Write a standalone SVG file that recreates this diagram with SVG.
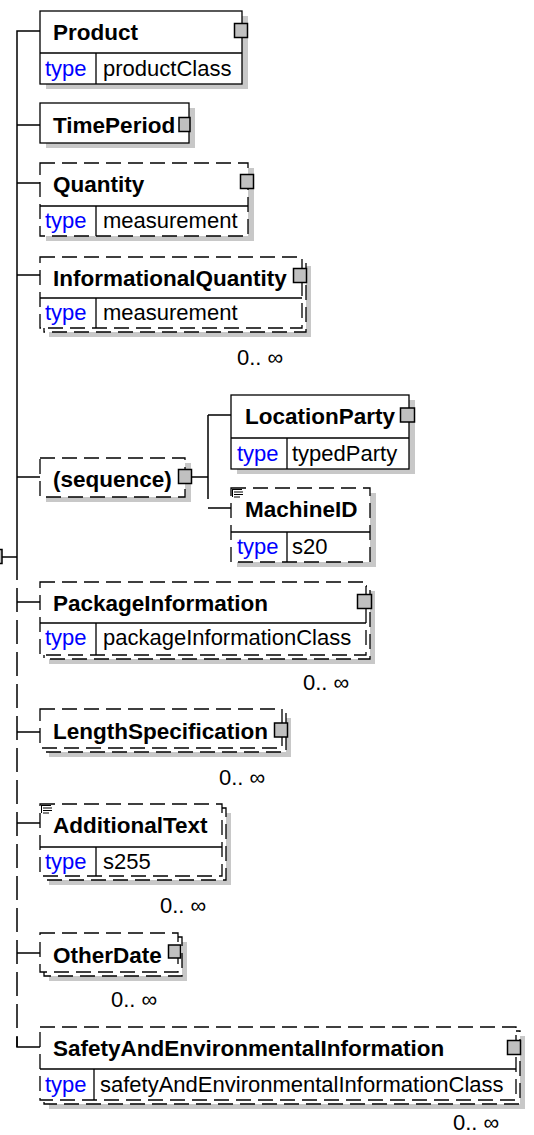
<svg xmlns="http://www.w3.org/2000/svg" width="534" height="1135" viewBox="0 0 534 1135">
<style>
.sh{fill:#c8c8c8;stroke:none}
.bx{fill:#fff;stroke:#000;stroke-width:1.3}
.dbx{fill:#fff;stroke:#000;stroke-width:1.3;stroke-dasharray:15 7}
.ln{fill:none;stroke:#000;stroke-width:1.3}
.cn{fill:none;stroke:#000;stroke-width:1.5}
.dcn{fill:none;stroke:#000;stroke-width:1.5;stroke-dasharray:24 8;stroke-dashoffset:24}
.sq{fill:#c0c0c0;stroke:#000;stroke-width:1.5}
.nm{font-family:"Liberation Sans",Arial,sans-serif;font-weight:bold;font-size:22.5px;fill:#000}
.ty{font-family:"Liberation Sans",Arial,sans-serif;font-size:22px;fill:#0000ff}
.tv{font-family:"Liberation Sans",Arial,sans-serif;font-size:22px;fill:#000}
.oc{font-family:"Liberation Sans",Arial,sans-serif;font-size:22px;fill:#000}
.doc{fill:none;stroke:#000;stroke-width:1}
</style>
<rect width="534" height="1135" fill="#fff"/>
<g id="connectors">
<path class="cn" d="M40,31 H17 V580"/>
<path class="dcn" d="M17,580 V1047"/>
<path class="cn" d="M17,1037 V1047 H40"/>
<path class="cn" d="M17,125 H40 M17,183 H40 M17,275 H40 M17,477 H40 M17,602 H40 M17,732 H40 M17,823 H40 M17,953 H40"/>
<path class="cn" d="M0,557 H17"/>
<rect class="sq" x="-11" y="549.5" width="13" height="14"/>
<path class="cn" d="M192,477 H208 M208,415 V499 M208,415 H231 M208,508 H231"/>
</g>
<g id="Product">
<rect class="sh" x="46" y="16" width="202" height="73"/>
<rect class="bx" x="40" y="11" width="202" height="73"/>
<path class="ln" d="M40,53 H242 M96,53 V84"/>
<text class="nm" x="53" y="40">Product</text>
<text class="ty" x="45" y="76">type</text>
<text class="tv" x="103" y="76">productClass</text>
<rect class="sq" x="234.5" y="23.5" width="13" height="14"/>
</g>
<g id="TimePeriod">
<rect class="sh" x="46" y="108" width="149" height="40"/>
<rect class="bx" x="40" y="103" width="149" height="40"/>
<text class="nm" x="53" y="133">TimePeriod</text>
<rect class="sq" x="179" y="117.5" width="11" height="14"/>
</g>
<g id="Quantity">
<rect class="sh" x="46" y="168" width="208" height="73"/>
<rect class="dbx" x="40" y="163" width="208" height="73"/>
<path class="ln" d="M40,206 H248 M96,206 V236"/>
<text class="nm" x="53" y="192">Quantity</text>
<text class="ty" x="45" y="228">type</text>
<text class="tv" x="103" y="228">measurement</text>
<rect class="sq" x="240.5" y="174.5" width="13" height="14"/>
</g>
<g id="InformationalQuantity">
<rect class="sh" x="49" y="266" width="262" height="71"/>
<rect class="dbx" x="44" y="261" width="262" height="71"/>
<rect class="dbx" x="40" y="257" width="262" height="71"/>
<path class="ln" d="M40,298 H302 M96,298 V328"/>
<text class="nm" x="53" y="286">InformationalQuantity</text>
<text class="ty" x="45" y="320">type</text>
<text class="tv" x="103" y="320">measurement</text>
<rect class="sq" x="293.5" y="268.5" width="13" height="14"/>
<text class="oc" x="237" y="365">0.. ∞</text>
</g>
<g id="sequence">
<rect class="sh" x="46" y="463" width="145" height="39"/>
<rect class="dbx" x="40" y="458" width="145" height="39"/>
<text class="nm" x="53" y="487">(sequence)</text>
<rect class="sq" x="178.5" y="469.5" width="13" height="14"/>
</g>
<g id="LocationParty">
<rect class="sh" x="237" y="400" width="178" height="74"/>
<rect class="bx" x="231" y="395" width="178" height="74"/>
<path class="ln" d="M231,438 H409 M287,438 V469"/>
<text class="nm" x="245" y="424">LocationParty</text>
<text class="ty" x="237" y="461">type</text>
<text class="tv" x="292" y="461">typedParty</text>
<rect class="sq" x="400.5" y="408" width="14" height="14"/>
</g>
<g id="MachineID">
<rect class="sh" x="237" y="493" width="139" height="74"/>
<rect class="dbx" x="231" y="488" width="139" height="74"/>
<path class="ln" d="M231,532 H370 M287,532 V562"/>
<path class="doc" d="M232,489.5 H242 M234,492 H243 M234,494.5 H243 M234,497 H240 M232.5,489 V497"/>
<text class="nm" x="245" y="517">MachineID</text>
<text class="ty" x="237" y="554">type</text>
<text class="tv" x="292" y="554">s20</text>
</g>
<g id="PackageInformation">
<rect class="sh" x="49" y="591" width="326" height="73"/>
<rect class="dbx" x="44" y="586" width="326" height="73"/>
<rect class="dbx" x="40" y="582" width="326" height="73"/>
<path class="ln" d="M40,623 H366 M96,623 V655"/>
<text class="nm" x="53" y="611">PackageInformation</text>
<text class="ty" x="45" y="645">type</text>
<text class="tv" x="103" y="645">packageInformationClass</text>
<rect class="sq" x="357.5" y="594.5" width="14" height="14"/>
<text class="oc" x="303" y="690">0.. ∞</text>
</g>
<g id="LengthSpecification">
<rect class="sh" x="49" y="718" width="242" height="39"/>
<rect class="dbx" x="44" y="713" width="242" height="39"/>
<rect class="dbx" x="40" y="709" width="242" height="39"/>
<text class="nm" x="53" y="739">LengthSpecification</text>
<rect class="sq" x="274.5" y="723" width="13" height="14"/>
<text class="oc" x="219" y="785">0.. ∞</text>
</g>
<g id="AdditionalText">
<rect class="sh" x="49" y="813" width="182" height="72"/>
<rect class="dbx" x="44" y="808" width="182" height="72"/>
<rect class="dbx" x="40" y="804" width="182" height="72"/>
<path class="ln" d="M40,847 H222 M96,847 V876"/>
<path class="doc" d="M41,805.5 H51 M43,808 H52 M43,810.5 H52 M43,813 H49 M41.5,805 V813"/>
<text class="nm" x="53" y="833">AdditionalText</text>
<text class="ty" x="45" y="869">type</text>
<text class="tv" x="103" y="869">s255</text>
<text class="oc" x="160" y="913">0.. ∞</text>
</g>
<g id="OtherDate">
<rect class="sh" x="49" y="942" width="138" height="39"/>
<rect class="dbx" x="44" y="937" width="138" height="39"/>
<rect class="dbx" x="40" y="933" width="138" height="39"/>
<text class="nm" x="53" y="963">OtherDate</text>
<rect class="sq" x="168.5" y="945" width="12" height="13"/>
<text class="oc" x="111" y="1007">0.. ∞</text>
</g>
<g id="SafetyAndEnvironmentalInformation">
<rect class="sh" x="49" y="1036" width="476" height="73"/>
<rect class="dbx" x="44" y="1031" width="476" height="73"/>
<rect class="dbx" x="40" y="1027" width="476" height="73"/>
<path class="ln" d="M40,1069 H516 M94,1069 V1100"/>
<text class="nm" x="53" y="1056">SafetyAndEnvironmentalInformation</text>
<text class="ty" x="45" y="1092">type</text>
<text class="tv" x="100" y="1092">safetyAndEnvironmentalInformationClass</text>
<rect class="sq" x="507.5" y="1040.5" width="13" height="14"/>
<text class="oc" x="453" y="1130">0.. ∞</text>
</g>
</svg>
